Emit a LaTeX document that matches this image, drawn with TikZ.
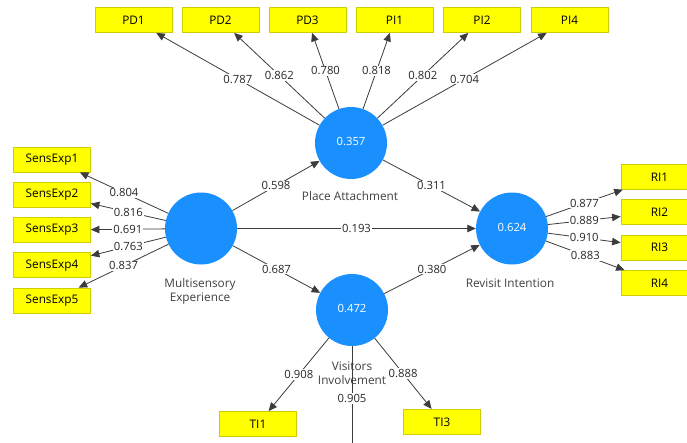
\documentclass[tikz,border=0pt]{standalone}
\usepackage{fontspec}
\setmainfont{Open Sans}
\usetikzlibrary{arrows.meta}
\definecolor{lvblue}{RGB}{26,144,255}
\definecolor{boxyellow}{RGB}{255,255,0}
\definecolor{boxborder}{RGB}{205,205,0}
\definecolor{edgegray}{RGB}{60,60,60}
\definecolor{lbltext}{RGB}{40,40,40}
\definecolor{nametext}{RGB}{64,64,64}
\newcommand\lbfont{\fontsize{11.3pt}{14pt}\selectfont}
\newcommand\nmfont{\fontsize{11.8pt}{14pt}\selectfont}
\newcommand\lvtxt[1]{\raisebox{2.5pt}{#1}}
\begin{document}
\begin{tikzpicture}[x=1pt,y=-1pt,
  lv/.style={circle, fill=lvblue, minimum size=72pt, inner sep=0pt, text=white, font=\lbfont},
  ind/.style={draw=boxborder, fill=boxyellow, minimum width=77pt, minimum height=25pt, inner sep=0pt, font=\nmfont, line width=0.8pt},
  ld/.style={draw=edgegray, line width=0.8pt, -{Triangle[length=8.5pt,width=7.5pt]}},
  wl/.style={fill=white, inner sep=1pt, text=lbltext, font=\lbfont},
  nm/.style={text=nametext, font=\nmfont, align=center}
]
\useasboundingbox (0,0) rectangle (687,442);
\clip (0,0) rectangle (687,442);
\fill[white] (0,0) rectangle (687,442);

% latent variables
\node[lv] (MS) at (201,228.5) {};
\node[lv] (PA) at (351,143) {\lvtxt{0.357}};
\node[lv] (RI) at (512,228.5) {\lvtxt{0.624}};
\node[lv] (VI) at (352,310) {\lvtxt{0.472}};

% names
\node[nm] (MSname) at (200,291) {Multisensory\\Experience};
\node[nm] (PAname) at (350,196) {Place Attachment};
\node[nm] (RIname) at (510,283.5) {Revisit Intention};

% indicators
\node[ind] (PD1) at (133.5,20) {PD1};
\node[ind] (PD2) at (220.5,20) {PD2};
\node[ind] (PD3) at (307.5,20) {PD3};
\node[ind] (PI1) at (394.5,20) {PI1};
\node[ind] (PI2) at (482,20) {PI2};
\node[ind] (PI4) at (569.5,20) {PI4};

\node[ind] (SE1) at (52,159.5) {SensExp1};
\node[ind] (SE2) at (52,194.75) {SensExp2};
\node[ind] (SE3) at (52,230) {SensExp3};
\node[ind] (SE4) at (52,265.25) {SensExp4};
\node[ind] (SE5) at (52,300.5) {SensExp5};

\node[ind] (RI1) at (659.5,176.8) {RI1};
\node[ind] (RI2) at (659.5,212.3) {RI2};
\node[ind] (RI3) at (659.5,247.7) {RI3};
\node[ind] (RI4) at (659.5,283) {RI4};

\node[ind] (TI1) at (258,424) {TI1};
\node[ind] (TI3) at (442,421.8) {TI3};
\coordinate (TI2end) at (352,454);

% outer loadings
\draw[ld] (PA) -- node[wl]{0.787} (PD1);
\draw[ld] (PA) -- node[wl]{0.862} (PD2);
\draw[ld] (PA) -- node[wl]{0.780} (PD3);
\draw[ld] (PA) -- node[wl]{0.818} (PI1);
\draw[ld] (PA) -- node[wl]{0.802} (PI2);
\draw[ld] (PA) -- node[wl]{0.704} (PI4);

\draw[ld] (MS) -- node[wl]{0.804} (SE1);
\draw[ld] (MS) -- node[wl]{0.816} (SE2);
\draw[ld] (MS) -- node[wl]{0.691} (SE3);
\draw[ld] (MS) -- node[wl]{0.763} (SE4);
\draw[ld] (MS) -- node[wl]{0.837} (SE5);

\draw[ld] (RI) -- node[wl]{0.877} (RI1);
\draw[ld] (RI) -- node[wl]{0.889} (RI2);
\draw[ld] (RI) -- node[wl]{0.910} (RI3);
\draw[ld] (RI) -- node[wl]{0.883} (RI4);

\draw[ld] (VI) -- node[wl]{0.908} (TI1);
\draw[ld] (VI) -- node[wl]{0.888} (TI3);
\draw[ld] (VI) -- node[wl,pos=0.485]{0.905} (TI2end);

% structural paths
\draw[ld] (MS) -- node[wl]{0.598} (PA);
\draw[ld] (MS) -- node[wl]{0.193} (RI);
\draw[ld] (MS) -- node[wl]{0.687} (VI);
\draw[ld] (PA) -- node[wl]{0.311} (RI);
\draw[ld] (VI) -- node[wl]{0.380} (RI);

\node[nm] (VIname) at (352,373.5) {Visitors\\Involvement};
\end{tikzpicture}
\end{document}
